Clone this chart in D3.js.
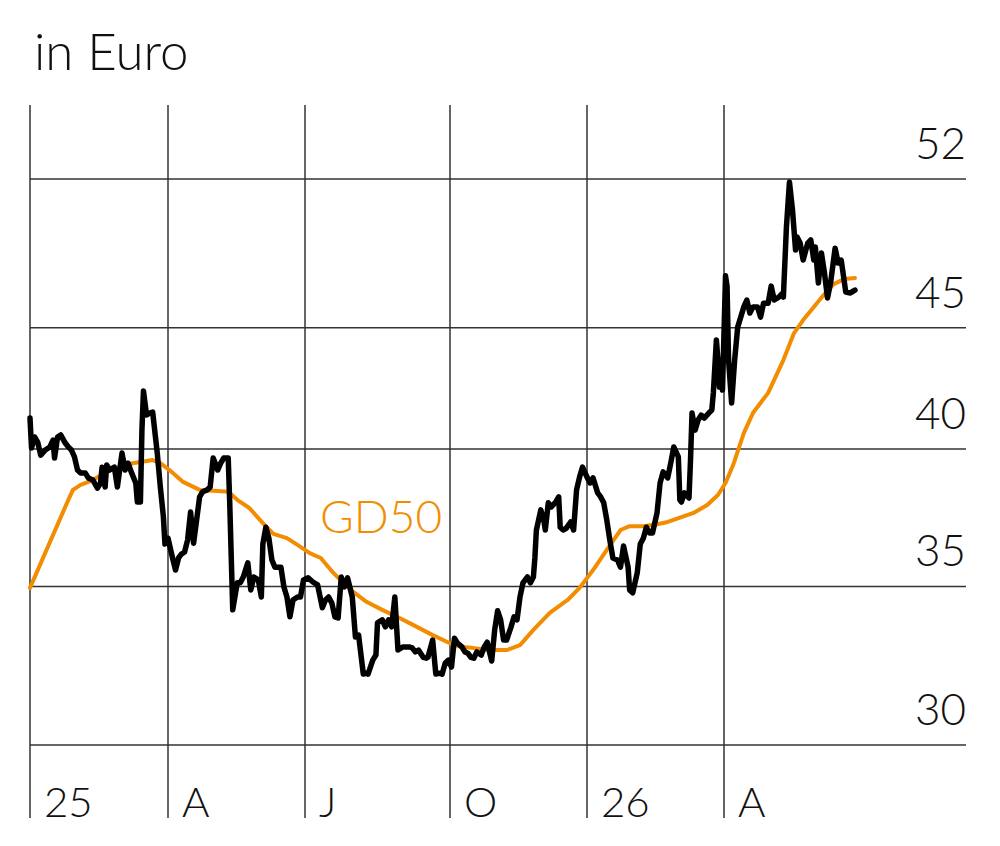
<!DOCTYPE html>
<html>
<head>
<meta charset="utf-8">
<script src="https://cdn.jsdelivr.net/npm/d3@7"></script>
<style>
  html, body { margin: 0; padding: 0; background: #fff; }
  svg { display: block; }
  text { font-family: Lato, "Open Sans", sans-serif; }
</style>
</head>
<body>
<div id="chart"></div>
<script>
// quarter ticks on the time axis
const quarterDates = ['2025-01-01', '2025-04-01', '2025-07-01', '2025-10-01', '2026-01-01', '2026-04-01'];
const quarterLabels = ['25', 'A', 'J', 'O', '26', 'A'];
const priceTicks = [30, 35, 40, 45, 52];

// share price, euro
const price = [
  ['2025-01-01', 41.22], ['2025-01-02', 40.04], ['2025-01-04', 40.47], ['2025-01-06', 40.27], ['2025-01-08', 39.76],
  ['2025-01-11', 39.96], ['2025-01-14', 40.08], ['2025-01-16', 40.35], ['2025-01-17', 39.65], ['2025-01-19', 40.47],
  ['2025-01-21', 40.55], ['2025-01-24', 40.23], ['2025-01-26', 40.08], ['2025-01-28', 39.96], ['2025-01-30', 39.69],
  ['2025-02-01', 39.19], ['2025-02-03', 39.08], ['2025-02-06', 39.08], ['2025-02-08', 38.89], ['2025-02-11', 38.81],
  ['2025-02-14', 38.51], ['2025-02-16', 38.70], ['2025-02-17', 39.30], ['2025-02-19', 38.55], ['2025-02-20', 39.38],
  ['2025-02-22', 39.19], ['2025-02-25', 39.30], ['2025-02-27', 38.55], ['2025-03-02', 39.84], ['2025-03-04', 39.19],
  ['2025-03-06', 39.45], ['2025-03-08', 39.12], ['2025-03-11', 38.70], ['2025-03-12', 37.99], ['2025-03-14', 37.99],
  ['2025-03-15', 40.74], ['2025-03-16', 42.32], ['2025-03-18', 41.34], ['2025-03-20', 41.42], ['2025-03-22', 41.46],
  ['2025-03-25', 39.84], ['2025-03-27', 38.55], ['2025-03-29', 37.44], ['2025-03-30', 36.47], ['2025-04-01', 36.68],
  ['2025-04-04', 35.98], ['2025-04-06', 35.56], ['2025-04-08', 35.98], ['2025-04-10', 36.12], ['2025-04-12', 36.19],
  ['2025-04-14', 36.61], ['2025-04-16', 37.62], ['2025-04-18', 36.50], ['2025-04-20', 37.33], ['2025-04-22', 38.18],
  ['2025-04-24', 38.37], ['2025-04-27', 38.44], ['2025-04-29', 38.55], ['2025-05-01', 39.65], ['2025-05-04', 39.19],
  ['2025-05-06', 39.45], ['2025-05-08', 39.65], ['2025-05-11', 39.65], ['2025-05-12', 37.96], ['2025-05-14', 34.21],
  ['2025-05-17', 35.12], ['2025-05-19', 35.12], ['2025-05-21', 35.32], ['2025-05-24', 35.81], ['2025-05-26', 34.88],
  ['2025-05-28', 35.32], ['2025-05-31', 35.22], ['2025-06-02', 34.64], ['2025-06-03', 36.47], ['2025-06-05', 37.07],
  ['2025-06-07', 36.68], ['2025-06-09', 35.91], ['2025-06-11', 35.66], ['2025-06-15', 35.66], ['2025-06-17', 34.98],
  ['2025-06-19', 34.64], ['2025-06-21', 33.98], ['2025-06-23', 34.54], ['2025-06-26', 34.64], ['2025-06-28', 34.64],
  ['2025-06-30', 35.22], ['2025-07-03', 35.29], ['2025-07-06', 35.15], ['2025-07-09', 35.05], ['2025-07-12', 34.28],
  ['2025-07-14', 34.54], ['2025-07-16', 34.64], ['2025-07-18', 34.44], ['2025-07-20', 33.98], ['2025-07-22', 33.94],
  ['2025-07-24', 35.32], ['2025-07-26', 34.98], ['2025-07-28', 35.29], ['2025-07-31', 34.64], ['2025-08-02', 33.32],
  ['2025-08-04', 33.38], ['2025-08-07', 32.14], ['2025-08-09', 32.17], ['2025-08-10', 32.14], ['2025-08-13', 32.58],
  ['2025-08-15', 32.74], ['2025-08-16', 33.78], ['2025-08-19', 33.88], ['2025-08-21', 33.65], ['2025-08-23', 33.88],
  ['2025-08-25', 33.65], ['2025-08-27', 34.64], ['2025-08-29', 32.90], ['2025-09-01', 33.00], ['2025-09-03', 33.00],
  ['2025-09-05', 33.00], ['2025-09-07', 32.97], ['2025-09-09', 32.84], ['2025-09-11', 32.90], ['2025-09-14', 32.67],
  ['2025-09-16', 32.64], ['2025-09-17', 32.67], ['2025-09-20', 33.22], ['2025-09-22', 32.14], ['2025-09-24', 32.17],
  ['2025-09-26', 32.14], ['2025-09-28', 32.49], ['2025-09-30', 32.58], ['2025-10-02', 32.36], ['2025-10-04', 33.28],
  ['2025-10-06', 33.12], ['2025-10-09', 33.00], ['2025-10-11', 32.84], ['2025-10-13', 32.80], ['2025-10-15', 32.67],
  ['2025-10-17', 32.64], ['2025-10-19', 32.84], ['2025-10-22', 32.74], ['2025-10-24', 33.00], ['2025-10-26', 33.15],
  ['2025-10-29', 32.55], ['2025-10-31', 33.55], ['2025-11-02', 34.18], ['2025-11-04', 33.88], ['2025-11-06', 33.22],
  ['2025-11-08', 33.22], ['2025-11-11', 33.65], ['2025-11-13', 33.98], ['2025-11-15', 33.88], ['2025-11-17', 34.64],
  ['2025-11-19', 35.12], ['2025-11-22', 35.32], ['2025-11-24', 35.12], ['2025-11-26', 35.32], ['2025-11-27', 35.98],
  ['2025-11-28', 36.97], ['2025-12-01', 37.70], ['2025-12-03', 37.33], ['2025-12-04', 36.97], ['2025-12-06', 37.96],
  ['2025-12-08', 37.81], ['2025-12-11', 37.99], ['2025-12-13', 38.18], ['2025-12-14', 37.07], ['2025-12-16', 36.97],
  ['2025-12-18', 37.03], ['2025-12-21', 37.26], ['2025-12-23', 36.97], ['2025-12-25', 38.44], ['2025-12-27', 38.92],
  ['2025-12-29', 39.30], ['2026-01-01', 38.92], ['2026-01-03', 38.70], ['2026-01-05', 38.89], ['2026-01-08', 38.33],
  ['2026-01-10', 38.18], ['2026-01-12', 37.96], ['2026-01-14', 37.33], ['2026-01-16', 36.61], ['2026-01-18', 35.98],
  ['2026-01-21', 35.91], ['2026-01-23', 35.66], ['2026-01-25', 36.40], ['2026-01-28', 35.66], ['2026-01-29', 34.88],
  ['2026-01-31', 34.78], ['2026-02-03', 35.46], ['2026-02-05', 36.47], ['2026-02-07', 36.68], ['2026-02-09', 37.07],
  ['2026-02-11', 36.86], ['2026-02-13', 36.86], ['2026-02-16', 37.59], ['2026-02-18', 38.70], ['2026-02-20', 39.12],
  ['2026-02-23', 38.89], ['2026-02-25', 39.45], ['2026-02-27', 40.08], ['2026-03-02', 39.69], ['2026-03-03', 38.07],
  ['2026-03-04', 37.99], ['2026-03-06', 38.33], ['2026-03-09', 38.14], ['2026-03-10', 39.57], ['2026-03-11', 41.42],
  ['2026-03-13', 40.74], ['2026-03-15', 41.14], ['2026-03-17', 41.34], ['2026-03-19', 41.22], ['2026-03-22', 41.42],
  ['2026-03-24', 41.54], ['2026-03-25', 42.24], ['2026-03-27', 44.47], ['2026-03-28', 43.61], ['2026-03-29', 42.48],
  ['2026-03-30', 43.61], ['2026-03-31', 42.36], ['2026-04-02', 47.33], ['2026-04-03', 46.86], ['2026-04-04', 43.61],
  ['2026-04-06', 41.83], ['2026-04-08', 43.61], ['2026-04-10', 45.03], ['2026-04-12', 45.47], ['2026-04-14', 45.92],
  ['2026-04-16', 46.23], ['2026-04-18', 45.65], ['2026-04-20', 45.92], ['2026-04-23', 45.92], ['2026-04-25', 45.47],
  ['2026-04-27', 46.09], ['2026-04-30', 46.09], ['2026-05-02', 46.86], ['2026-05-04', 46.23], ['2026-05-07', 46.36],
  ['2026-05-09', 46.50], ['2026-05-10', 46.36], ['2026-05-12', 49.61], ['2026-05-14', 51.85], ['2026-05-16', 50.46],
  ['2026-05-18', 48.53], ['2026-05-19', 49.15], ['2026-05-21', 48.86], ['2026-05-23', 48.06], ['2026-05-26', 48.86],
  ['2026-05-28', 49.01], ['2026-05-30', 48.06], ['2026-05-31', 48.67], ['2026-06-02', 47.00], ['2026-06-04', 48.39],
  ['2026-06-06', 47.46], ['2026-06-08', 46.32], ['2026-06-10', 47.00], ['2026-06-13', 48.62], ['2026-06-15', 47.92],
  ['2026-06-17', 48.06], ['2026-06-20', 46.59], ['2026-06-23', 46.55], ['2026-06-26', 46.68]
];

// 50-day moving average (GD50)
const gd50 = [
  ['2025-01-01', 34.95], ['2025-01-26', 38.07], ['2025-01-29', 38.44], ['2025-02-03', 38.63], ['2025-02-11', 38.81],
  ['2025-02-22', 39.19], ['2025-03-09', 39.45], ['2025-03-22', 39.57], ['2025-03-27', 39.45], ['2025-04-02', 39.19],
  ['2025-04-11', 38.74], ['2025-04-22', 38.44], ['2025-05-04', 38.40], ['2025-05-11', 38.37], ['2025-05-17', 38.07],
  ['2025-05-25', 37.77], ['2025-06-03', 37.22], ['2025-06-10', 36.83], ['2025-06-19', 36.68], ['2025-06-26', 36.44],
  ['2025-07-04', 36.15], ['2025-07-11', 35.98], ['2025-07-19', 35.46], ['2025-07-30', 34.88], ['2025-08-09', 34.48],
  ['2025-08-19', 34.21], ['2025-08-30', 33.94], ['2025-09-10', 33.65], ['2025-09-20', 33.38], ['2025-10-01', 33.12],
  ['2025-10-08', 33.00], ['2025-10-16', 32.97], ['2025-10-26', 32.90], ['2025-11-08', 32.90], ['2025-11-17', 33.06],
  ['2025-11-26', 33.55], ['2025-12-07', 34.11], ['2025-12-19', 34.54], ['2025-12-27', 34.95], ['2026-01-05', 35.56],
  ['2026-01-14', 36.26], ['2026-01-23', 36.97], ['2026-01-29', 37.11], ['2026-02-07', 37.11], ['2026-02-16', 37.18],
  ['2026-02-23', 37.26], ['2026-03-04', 37.44], ['2026-03-12', 37.59], ['2026-03-21', 37.88], ['2026-03-28', 38.25],
  ['2026-04-02', 38.70], ['2026-04-07', 39.38], ['2026-04-14', 40.62], ['2026-04-20', 41.42], ['2026-04-30', 42.24],
  ['2026-05-10', 43.61], ['2026-05-17', 44.77], ['2026-05-23', 45.34], ['2026-05-30', 45.92], ['2026-06-06', 46.50],
  ['2026-06-12', 46.95], ['2026-06-19', 47.18], ['2026-06-26', 47.23]
];

function draw () {
  const svgWidth = 1000;
  const svgHeight = 846;
  const gridBottom = 818;
  const parse = d3.timeParse('%Y-%m-%d');

  const svg = d3.select('#chart')
    .append('svg')
    .attr('width', svgWidth)
    .attr('height', svgHeight);

  // quarters are spaced by trading days, so one segment per quarter
  const x = d3.scaleTime()
    .domain(quarterDates.map(parse))
    .range([30, 168, 305, 450, 587, 724]);
  const y = d3.scaleLog()
    .domain([30, 52])
    .range([745, 179]);

  const grid = svg.append('g')
    .attr('stroke', '#333')
    .attr('stroke-width', 1.5);

  grid.selectAll('.vline')
    .data(quarterDates)
    .join('line')
    .attr('x1', d => x(parse(d)))
    .attr('x2', d => x(parse(d)))
    .attr('y1', 105)
    .attr('y2', gridBottom);

  grid.selectAll('.hline')
    .data(priceTicks)
    .join('line')
    .attr('x1', 30)
    .attr('x2', 966)
    .attr('y1', d => y(d))
    .attr('y2', d => y(d));

  // y labels, right side, above each line
  svg.append('g')
    .selectAll('text')
    .data(priceTicks)
    .join('text')
    .attr('x', 966)
    .attr('y', d => y(d) - 20)
    .attr('text-anchor', 'end')
    .attr('font-size', 44)
    .attr('font-weight', 300)
    .attr('fill', '#111')
    .text(d => d);

  // x labels at the foot of each quarter line
  svg.append('g')
    .selectAll('text')
    .data(quarterDates)
    .join('text')
    .attr('x', d => x(parse(d)) + 14)
    .attr('y', 817)
    .attr('font-size', 42)
    .attr('font-weight', 300)
    .attr('fill', '#111')
    .text((d, i) => quarterLabels[i]);

  svg.append('text')
    .attr('x', 34)
    .attr('y', 70)
    .attr('font-size', 51)
    .attr('font-weight', 300)
    .attr('fill', '#111')
    .text('in Euro');

  const line = d3.line()
    .x(d => x(parse(d[0])))
    .y(d => y(d[1]));

  svg.append('path')
    .datum(gd50)
    .attr('fill', 'none')
    .attr('stroke', '#f28c00')
    .attr('stroke-width', 4)
    .attr('stroke-linejoin', 'round')
    .attr('stroke-linecap', 'round')
    .attr('d', line);

  svg.append('path')
    .datum(price)
    .attr('fill', 'none')
    .attr('stroke', '#000')
    .attr('stroke-width', 5.5)
    .attr('stroke-linejoin', 'round')
    .attr('stroke-linecap', 'round')
    .attr('d', line);

  svg.append('text')
    .attr('x', 320)
    .attr('y', 533)
    .attr('font-size', 46)
    .attr('font-weight', 300)
    .attr('fill', '#f28c00')
    .text('GD50');
}
draw();
</script>
</body>
</html>
